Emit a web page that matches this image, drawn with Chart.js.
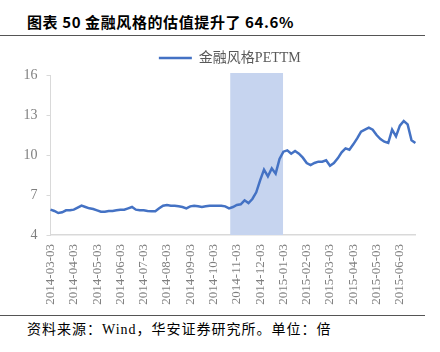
<!DOCTYPE html>
<html>
<head>
<meta charset="utf-8">
<script src="https://cdn.jsdelivr.net/npm/chart.js@4"></script>
<style>
  body { margin: 0; background: #fff; }
  #page { position: relative; width: 440px; height: 352px; overflow: hidden; }
  #title { position: absolute; left: 27px; top: 11px; font: 700 15px "Noto Sans CJK SC", sans-serif; letter-spacing: 0.6px; color: #000; white-space: nowrap; }
  .rule { position: absolute; left: 0; width: 425px; height: 1px; background: #555; }
  #wrap { position: absolute; left: 0; top: 43px; width: 440px; height: 272px; }
  #src { position: absolute; left: 27px; top: 318px; font: 14px "Liberation Serif", "Noto Sans CJK SC", serif; letter-spacing: 1px; color: #000; white-space: nowrap; }
</style>
</head>
<body>
<div id="page">
  <div id="title">图表 50 金融风格的估值提升了 64.6%</div>
  <div class="rule" style="top:35px"></div>
  <div id="wrap"><canvas id="chart"></canvas></div>
  <div class="rule" style="top:315px"></div>
  <div id="src">资料来源：Wind，华安证券研究所。单位：倍</div>
</div>
<script>
// monthly tick labels, one every 6 points
const tickLabels = ['2014-03-03', '2014-04-03', '2014-05-03', '2014-06-03', '2014-07-03', '2014-08-03',
  '2014-09-03', '2014-10-03', '2014-11-03', '2014-12-03', '2015-01-03', '2015-02-03',
  '2015-03-03', '2015-04-03', '2015-05-03', '2015-06-03'];
const pointsPerLabel = 6;

const seriesName = '金融风格PETTM';
const peValues = [
  5.9, 5.8, 5.65, 5.7, 5.85, 5.85,
  5.9, 6.05, 6.2, 6.1, 6.0, 5.95,
  5.85, 5.75, 5.75, 5.8, 5.8, 5.85,
  5.9, 5.9, 6.0, 6.1, 5.9, 5.85,
  5.85, 5.8, 5.78, 5.78, 6.0, 6.2,
  6.25, 6.2, 6.2, 6.15, 6.1, 6.0,
  6.15, 6.2, 6.15, 6.1, 6.15, 6.2,
  6.2, 6.2, 6.2, 6.15, 6.0, 6.1,
  6.25, 6.3, 6.6, 6.4, 6.7, 7.2,
  8.1, 8.9, 8.4, 9.0, 8.6, 9.7,
  10.25, 10.35, 10.1, 10.3, 10.1, 9.8,
  9.4, 9.25, 9.4, 9.5, 9.5, 9.6,
  9.2, 9.4, 9.75, 10.2, 10.5, 10.4,
  10.8, 11.25, 11.75, 11.9, 12.05, 11.9,
  11.5, 11.2, 11.0, 10.9, 11.9, 11.4,
  12.2, 12.55, 12.3, 11.1, 10.9
];

const yTicks = [4, 7, 10, 13, 16];
// shaded period, in point-index units
const bandRange = [46.3, 59.9];

const labels = peValues.map((_, i) => i % pointsPerLabel === 0 ? (tickLabels[i / pointsPerLabel] || '') : '');

const serif = '"Liberation Serif", "Noto Sans CJK SC", serif';

const bandPlugin = {
  id: 'band',
  beforeDatasetsDraw(chart) {
    const { ctx, chartArea, scales: { x } } = chart;
    const x1 = x.getPixelForValue(bandRange[0]);
    const x2 = x.getPixelForValue(bandRange[1]);
    ctx.save();
    ctx.fillStyle = '#c6d4ef';
    ctx.fillRect(x1, chartArea.top - 2, x2 - x1, chartArea.bottom - chartArea.top + 2);
    ctx.restore();
  }
};

// the legend sits a bit right of the canvas centre in the original
const legendShift = {
  id: 'legendShift',
  afterLayout(chart) {
    chart.legend.left += 17;
    chart.legend.right += 17;
  }
};

new Chart(document.getElementById('chart'), {
  type: 'line',
  data: {
    labels: labels,
    datasets: [{
      label: seriesName,
      data: peValues,
      borderColor: '#4472c4',
      backgroundColor: '#4472c4',
      borderWidth: 2.5,
      pointRadius: 0,
      tension: 0
    }]
  },
  options: {
    responsive: true,
    maintainAspectRatio: false,
    animation: false,
    layout: { padding: { left: 0, right: 14.4, top: 0, bottom: 0 } },
    plugins: {
      legend: {
        position: 'top',
        labels: {
          usePointStyle: true,
          pointStyle: 'line',
          pointStyleWidth: 33,
          padding: 8,
          color: '#595959',
          font: { family: serif, size: 14 }
        }
      },
      tooltip: { enabled: false }
    },
    scales: {
      x: {
        grid: { display: false, drawTicks: false },
        border: { display: true, color: '#d9d9d9', width: 1.5 },
        ticks: {
          autoSkip: false,
          minRotation: 90,
          maxRotation: 90,
          padding: 9,
          color: '#7f7f7f',
          font: { family: serif, size: 13 }
        },
        afterFit(scale) { scale.height = 80; }
      },
      y: {
        min: 4,
        max: 16,
        grid: { drawOnChartArea: false, drawTicks: true, tickLength: 4, color: '#d9d9d9' },
        border: { display: true, color: '#d9d9d9' },
        ticks: {
          padding: 9,
          color: '#7f7f7f',
          font: { family: serif, size: 14 }
        },
        afterBuildTicks(scale) { scale.ticks = yTicks.map(v => ({ value: v })); },
        afterFit(scale) { scale.width = 50.5; }
      }
    }
  },
  plugins: [bandPlugin, legendShift]
});
</script>
</body>
</html>
